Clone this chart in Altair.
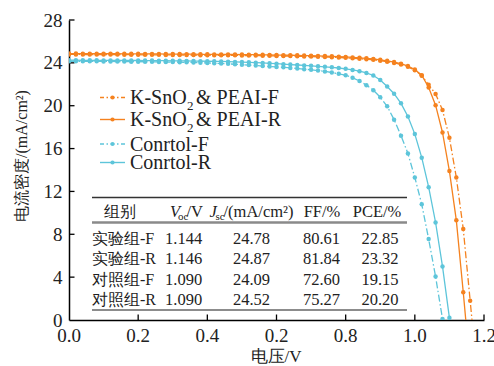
import altair as alt
import pandas as pd

# ---------------- data ----------------
V = [0.00, 0.02, 0.04, 0.06, 0.08, 0.10, 0.12, 0.14, 0.16, 0.18,
     0.20, 0.22, 0.24, 0.26, 0.28, 0.30, 0.32, 0.34, 0.36, 0.38,
     0.40, 0.42, 0.44, 0.46, 0.48, 0.50, 0.52, 0.54, 0.56, 0.58,
     0.60, 0.62, 0.64, 0.66, 0.68, 0.70, 0.72, 0.74, 0.76, 0.78,
     0.80, 0.82, 0.84, 0.86, 0.88, 0.90, 0.92, 0.94, 0.96, 0.98,
     1.00, 1.02, 1.04, 1.06, 1.08, 1.10, 1.12, 1.14, 1.16, 1.18]

J_EXP_F = [24.79, 24.79, 24.78, 24.78, 24.78, 24.77, 24.77, 24.77, 24.76, 24.76,
           24.76, 24.75, 24.75, 24.75, 24.74, 24.74, 24.74, 24.73, 24.73, 24.72,
           24.72, 24.71, 24.71, 24.70, 24.70, 24.69, 24.68, 24.68, 24.67, 24.66,
           24.65, 24.64, 24.63, 24.62, 24.60, 24.59, 24.57, 24.55, 24.53, 24.50,
           24.47, 24.43, 24.39, 24.34, 24.28, 24.20, 24.11, 23.99, 23.84, 23.63,
           23.32, 22.80, 21.95, 21.10, 19.60, 17.00, 13.30, 8.50, 1.80, -5.00]

J_EXP_R = [24.87, 24.87, 24.86, 24.86, 24.86, 24.85, 24.85, 24.85, 24.84, 24.84,
           24.84, 24.83, 24.83, 24.83, 24.82, 24.82, 24.82, 24.81, 24.81, 24.80,
           24.80, 24.79, 24.79, 24.78, 24.78, 24.77, 24.76, 24.76, 24.75, 24.74,
           24.73, 24.72, 24.71, 24.70, 24.68, 24.67, 24.65, 24.63, 24.61, 24.58,
           24.55, 24.51, 24.47, 24.42, 24.36, 24.28, 24.19, 24.07, 23.92, 23.70,
           23.38, 22.85, 21.70, 20.05, 17.50, 13.90, 9.30, 2.60, -4.50]

J_CTL_F = [24.15, 24.15, 24.14, 24.14, 24.14, 24.13, 24.13, 24.12, 24.12, 24.11,
           24.11, 24.10, 24.10, 24.09, 24.08, 24.07, 24.06, 24.05, 24.03, 24.01,
           23.99, 23.96, 23.94, 23.91, 23.87, 23.83, 23.79, 23.75, 23.70, 23.66,
           23.62, 23.58, 23.53, 23.47, 23.41, 23.35, 23.28, 23.20, 23.10, 22.98,
           22.84, 22.62, 22.30, 21.92, 21.45, 20.80, 19.95, 18.70, 17.20, 15.55,
           13.30, 10.80, 7.55, 4.05, 0.10, -4.80]

J_CTL_R = [24.25, 24.25, 24.24, 24.24, 24.24, 24.23, 24.23, 24.23, 24.22, 24.22,
           24.22, 24.21, 24.21, 24.20, 24.20, 24.19, 24.19, 24.18, 24.17, 24.16,
           24.15, 24.14, 24.13, 24.11, 24.09, 24.07, 24.05, 24.02, 23.99, 23.96,
           23.92, 23.88, 23.84, 23.80, 23.76, 23.72, 23.68, 23.63, 23.58, 23.52,
           23.44, 23.34, 23.22, 23.06, 22.82, 22.40, 21.80, 21.12, 20.22, 19.00,
           17.35, 15.15, 12.40, 9.10, 5.00, 0.20, -5.00]

GROUPS = ["实验组-F", "实验组-R", "对照组-F", "对照组-R"]
VOC = [1.144, 1.146, 1.090, 1.090]
JSC = [24.78, 24.87, 24.09, 24.52]
FF = [80.61, 81.84, 72.60, 75.27]
PCE = [22.85, 23.32, 19.15, 20.20]

X_TICKS = [0.0, 0.2, 0.4, 0.6, 0.8, 1.0, 1.2]
X_LABELS = ["0.0", "0.2", "0.4", "0.2", "0.8", "1.0", "1.2"]   # as printed in the figure
Y_TICKS = [0, 4, 8, 12, 16, 20, 24, 28]

# ---------------- layout / style ----------------
OX, OY = 69, 20
W, H = 415, 300
FONT = "Liberation Serif, Times New Roman, serif"
TXT = "#222222"
ORANGE = "#F5821F"
CYAN = "#5DC5DA"
DASHDOT = [7, 2.5, 1.5, 2.5]

XENC = alt.X("V:Q", title=None,
             scale=alt.Scale(domain=[0, 1.2], nice=False, zero=False),
             axis=alt.Axis(values=X_TICKS, ticks=False, grid=False, labels=False,
                           domainColor="black", domainWidth=1.5))
YENC = alt.Y("J:Q", title=None,
             scale=alt.Scale(domain=[0, 28], nice=False, zero=False),
             axis=alt.Axis(values=Y_TICKS, ticks=False, grid=False,
                           domainColor="black", domainWidth=1.5,
                           labelFont=FONT, labelFontSize=19, labelColor=TXT,
                           labelPadding=7, labelFlush=False, labelOverlap=False))


def text_layer(s, x, y, size, align="left", italic=False, angle=None, color=TXT):
    kw = dict(font=FONT, fontSize=size, align=align, baseline="middle", color=color)
    if italic:
        kw["fontStyle"] = "italic"
    if angle is not None:
        kw["angle"] = angle
    return alt.Chart(pd.DataFrame({"t": [s]})).mark_text(**kw).encode(
        text="t:N", x=alt.value(x - OX), y=alt.value(y - OY))


def hrule(x1, x2, y, color, width):
    return alt.Chart(pd.DataFrame({"a": [0]})).mark_rule(color=color, strokeWidth=width).encode(
        x=alt.value(x1 - OX), x2=alt.value(x2 - OX), y=alt.value(y - OY))


layers = []

# axis ticks (inward)
layers.append(alt.Chart(pd.DataFrame({"V": X_TICKS[1:]})).mark_rule(color="black", strokeWidth=1.3).encode(
    x=XENC, y=alt.value(H), y2=alt.value(H - 5.5)))
layers.append(alt.Chart(pd.DataFrame({"J": Y_TICKS[1:]})).mark_rule(color="black", strokeWidth=1.3).encode(
    y=YENC, x=alt.value(0), x2=alt.value(5.5)))
# x tick labels
layers.append(alt.Chart(pd.DataFrame({"V": X_TICKS, "lab": X_LABELS})).mark_text(
    font=FONT, fontSize=19, color=TXT, align="center", baseline="middle").encode(
    x=XENC, y=alt.value(H + 15.5), text="lab:N"))

series = [
    (J_CTL_F, CYAN, DASHDOT),
    (J_CTL_R, CYAN, None),
    (J_EXP_F, ORANGE, DASHDOT),
    (J_EXP_R, ORANGE, None),
]
for J, col, dash in series:
    df = pd.DataFrame({"V": V[:len(J)], "J": J})
    lk = dict(color=col, strokeWidth=1.3, clip=True)
    if dash:
        lk["strokeDash"] = dash
    layers.append(alt.Chart(df).mark_line(**lk).encode(x=XENC, y=YENC))
    layers.append(alt.Chart(df).mark_circle(color=col, size=20, opacity=1, clip=True).encode(x=XENC, y=YENC))

# legend
leg_rows = [
    (97.5, ORANGE, DASHDOT, "F"),
    (119.5, ORANGE, None, "R"),
    (144.0, CYAN, DASHDOT, "F"),
    (162.5, CYAN, None, "R"),
]
for i, (ly, col, dash, suf) in enumerate(leg_rows):
    rk = dict(color=col, strokeWidth=1.4)
    if dash:
        rk["strokeDash"] = [4, 2.5, 1.5, 2.5]
    layers.append(alt.Chart(pd.DataFrame({"a": [0]})).mark_rule(**rk).encode(
        x=alt.value(100 - OX), x2=alt.value(125 - OX), y=alt.value(ly - OY)))
    layers.append(alt.Chart(pd.DataFrame({"a": [0]})).mark_circle(color=col, size=18, opacity=1).encode(
        x=alt.value(112.5 - OX), y=alt.value(ly - OY)))
    if i < 2:
        layers.append(text_layer("K-SnO", 130, ly + 0.5, 20))
        layers.append(text_layer("2", 187, ly + 8, 13))
        layers.append(text_layer("& PEAI-" + suf, 196, ly + 0.5, 20))
    else:
        layers.append(text_layer("Conrtol-" + suf, 130, ly + 0.5, 20))

# table
layers.append(hrule(92, 407, 197.5, "#333333", 1.3))
layers.append(hrule(92, 407, 222.5, "#8a8a8a", 2.4))
layers.append(hrule(92, 407, 310, "#666666", 1.4))

HY = 211.5
layers.append(text_layer("组别", 120, HY, 16, align="center"))
layers.append(text_layer("V", 170, HY, 16.5, italic=True))
layers.append(text_layer("oc", 178, HY + 5, 11))
layers.append(text_layer("/V", 186.5, HY, 16.5))
layers.append(text_layer("J", 209.5, HY, 16.5, italic=True))
layers.append(text_layer("sc", 215.5, HY + 5, 11))
layers.append(text_layer("/(mA/cm²)", 223.5, HY, 16.5))
layers.append(text_layer("FF/%", 322, HY, 16.5, align="center"))
layers.append(text_layer("PCE/%", 377, HY, 16.5, align="center"))

ROW_Y = [238.5, 259.0, 279.5, 300.0]
for i in range(4):
    ry = ROW_Y[i]
    layers.append(text_layer(GROUPS[i], 92, ry, 16))
    layers.append(text_layer(f"{VOC[i]:.3f}", 165, ry, 16.5))
    layers.append(text_layer(f"{JSC[i]:.2f}", 251.5, ry, 16.5, align="center"))
    layers.append(text_layer(f"{FF[i]:.2f}", 321.5, ry, 16.5, align="center"))
    layers.append(text_layer(f"{PCE[i]:.2f}", 380, ry, 16.5, align="center"))

# axis titles
layers.append(text_layer("电流密度/(mA/cm²)", 22, 156, 16, align="center", angle=270))
layers.append(text_layer("电压/V", 276, 357, 17, align="center"))

chart = alt.layer(*layers).properties(
    width=W, height=H,
    autosize=alt.AutoSizeParams(type="none"),
    padding={"left": OX, "top": OY, "right": 494 - OX - W, "bottom": 366 - OY - H},
    background="white",
).configure_view(strokeWidth=0)

chart.save("out.html", embed_options={"renderer": "svg", "actions": False})
